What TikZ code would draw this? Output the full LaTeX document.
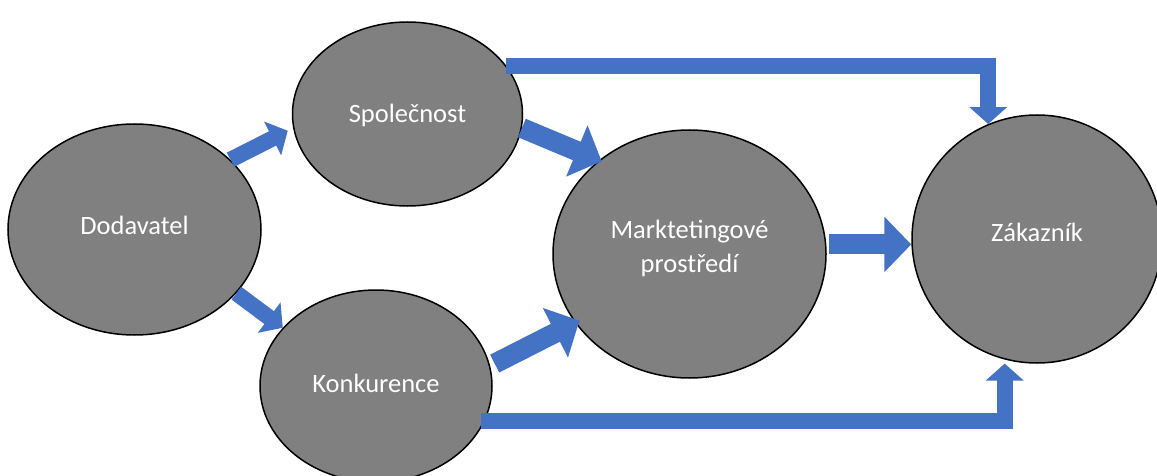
\documentclass[tikz,border=0pt]{standalone}
\usepackage{fontspec}
\setmainfont{Carlito}
\usetikzlibrary{shapes.geometric,arrows.meta}
\definecolor{blobgray}{HTML}{808080}
\definecolor{arrowblue}{HTML}{4472C4}
\begin{document}
\begin{tikzpicture}[x=1pt,y=-1pt,
  blob/.style={ellipse, draw=black, line width=1.5pt, fill=blobgray, inner sep=0pt},
  txt/.style={text=white, font=\fontsize{26.5}{34}\selectfont, align=center, inner sep=0pt},
  blk/.style={draw=arrowblue, line width=16pt, line join=miter, -{Triangle[length=17pt,width=37pt]}},
  bigblk/.style={draw=arrowblue, line width=20pt, line join=miter, -{Triangle[length=27pt,width=54pt]}}
]
\useasboundingbox (0,0) rectangle (1157,476);
\fill[white] (0,0) rectangle (1157,476);

\node[blob, minimum width=253pt, minimum height=211pt] (dod) at (134.5,229.5) {};
\node[blob, minimum width=230pt, minimum height=184pt] (spo) at (407.5,114) {};
\node[blob, minimum width=232pt, minimum height=192pt] (kon) at (376,386) {};
\node[blob, minimum width=273pt, minimum height=248pt] (mkt) at (689.5,254) {};
\node[blob, minimum width=250pt, minimum height=248pt] (zak) at (1037,239) {};

\node[txt, yshift=4pt] (dodt) at (dod) {Dodavatel};
\node[txt, yshift=-1pt] (spot) at (spo) {Společnost};
\node[txt, yshift=3pt] (kont) at (kon) {Konkurence};
\node[txt, yshift=6pt] (mktt) at (mkt) {Marktetingové\\prostředí};
\node[txt, yshift=7pt] (zakt) at (zak) {Zákazník};

\draw[blk, shorten >=6pt] (dod.36) -- (spo.187);
\draw[blk] (dod.-32) -- (kon.148);
\draw[bigblk, shorten >=-3pt] (spo.-7) -- (mkt.134);
\draw[bigblk, shorten <=5pt, shorten >=-5pt] (kon.10) -- (mkt.211);
\draw[bigblk, shorten <=3pt] (mkt.4) -- (mkt.4 -| zak.west);
\draw[blk] (spo.26) -| (zak.113);
\draw[blk, shorten <=-4pt, shorten >=4pt] (kon.-18) -| (zak.255);
\end{tikzpicture}
\end{document}
